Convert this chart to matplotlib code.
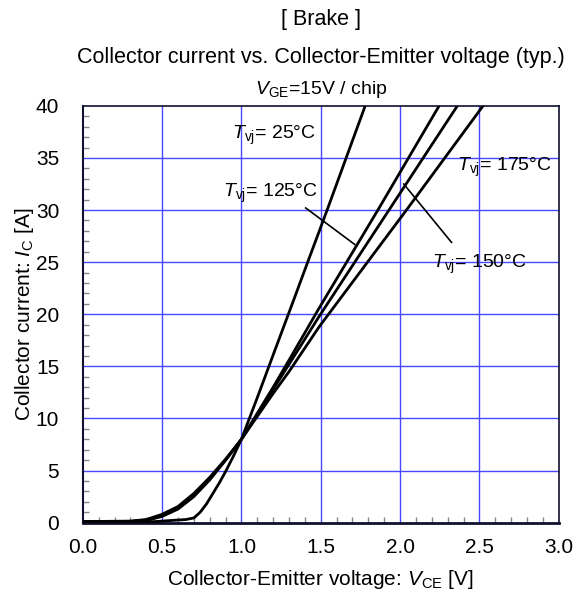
import matplotlib
matplotlib.use('Agg')
import matplotlib.pyplot as plt
from matplotlib.ticker import MultipleLocator

plt.rcParams['font.family'] = ['Liberation Sans', 'DejaVu Sans']
plt.rcParams['mathtext.fontset'] = 'custom'
plt.rcParams['mathtext.rm'] = 'Liberation Sans'
plt.rcParams['mathtext.it'] = 'Liberation Sans:italic'

# Output characteristics (V_CE [V], I_C [A])
v_25 = [0.0, 0.30, 0.45, 0.55, 0.65, 0.70, 0.74, 0.78, 0.82, 0.86, 0.90, 0.95, 1.00, 1.10, 1.20, 1.33, 1.42, 1.54, 1.66, 1.78]
i_25 = [0.05, 0.05, 0.1, 0.2, 0.3, 0.45, 1.0, 1.8, 2.8, 3.8, 4.9, 6.4, 8.0, 12.0, 16.1, 21.4, 25.1, 30.0, 35.0, 40.0]

v_125 = [0.0, 0.30, 0.40, 0.50, 0.60, 0.70, 0.80, 0.90, 1.00, 1.10, 1.20, 1.30, 1.49, 1.86, 2.246]
i_125 = [0.1, 0.1, 0.2, 0.6, 1.3, 2.5, 4.1, 6.0, 8.0, 10.5, 13.0, 15.6, 20.6, 30.0, 40.0]

v_150 = [0.0, 0.30, 0.40, 0.50, 0.60, 0.70, 0.80, 0.90, 1.00, 1.10, 1.20, 1.30, 1.49, 1.93, 2.361]
i_150 = [0.1, 0.12, 0.25, 0.7, 1.4, 2.65, 4.2, 6.0, 8.0, 10.4, 12.8, 15.2, 19.8, 30.0, 40.0]

v_175 = [0.0, 0.30, 0.40, 0.50, 0.60, 0.70, 0.80, 0.90, 1.00, 1.10, 1.20, 1.30, 1.49, 2.04, 2.523]
i_175 = [0.1, 0.15, 0.3, 0.8, 1.55, 2.8, 4.35, 6.1, 8.0, 10.2, 12.4, 14.5, 18.8, 30.0, 40.0]

fig = plt.figure(figsize=(5.79, 5.98), dpi=100)
ax = fig.add_axes([0.143, 0.126, 0.822, 0.697])

grid_col = '#4848ff'
for x in [0.5, 1.0, 1.5, 2.0, 2.5]:
    ax.axvline(x, color=grid_col, lw=1.0, zorder=1)
for y in [5, 10, 15, 20, 25, 30, 35]:
    ax.axhline(y, color=grid_col, lw=1.0, zorder=1)

for v, i in [(v_25, i_25), (v_125, i_125), (v_150, i_150), (v_175, i_175)]:
    ax.plot(v, i, color='black', lw=2.0, zorder=3, clip_on=True)

ax.set_xlim(0, 3.0)
ax.set_ylim(0, 40)
ax.xaxis.set_major_locator(MultipleLocator(0.5))
ax.xaxis.set_minor_locator(MultipleLocator(0.1))
ax.yaxis.set_major_locator(MultipleLocator(5))
ax.yaxis.set_minor_locator(MultipleLocator(1))
ax.xaxis.set_major_formatter(plt.FormatStrFormatter('%.1f'))
ax.tick_params(which='major', length=0, labelsize=15)
ax.tick_params(axis='x', which='major', pad=11)
ax.tick_params(axis='y', which='major', pad=17)
ax.tick_params(which='minor', direction='in', length=4, width=1, color='#888888')
for s in ax.spines.values():
    s.set_color('#101030')
    s.set_linewidth(1.2)
ax.spines['bottom'].set_linewidth(2)
ax.spines['left'].set_linewidth(1.5)

ax.set_xlabel(r'Collector-Emitter voltage: $\mathit{V}$$_{\rm CE}$ [V]', fontsize=15, labelpad=8)
ax.set_ylabel(r'Collector current: $\mathit{I}$$_{\rm C}$ [A]', fontsize=15, labelpad=0)

fig.text(0.555, 1 - 20 / 598, '[ Brake ]', ha='center', va='center', fontsize=15.5)
fig.text(0.555, 1 - 58 / 598, 'Collector current vs. Collector-Emitter voltage (typ.)',
         ha='center', va='center', fontsize=15.5)
fig.text(0.555, 1 - 90 / 598, r'$\mathit{V}$$_{\rm GE}$=15V / chip', ha='center', va='center', fontsize=14)

fs = 14
ax.text(0.94, 37.2, r'$\mathit{T}$$_{\rm vj}$= 25°C', fontsize=fs, va='center', ha='left', zorder=4)
ax.text(0.884, 31.6, r'$\mathit{T}$$_{\rm vj}$= 125°C', fontsize=fs, va='center', ha='left', zorder=4)
ax.text(2.359, 34.1, r'$\mathit{T}$$_{\rm vj}$= 175°C', fontsize=fs, va='center', ha='left', zorder=4)
ax.text(2.2, 24.8, r'$\mathit{T}$$_{\rm vj}$= 150°C', fontsize=fs, va='center', ha='left', zorder=4)
ax.plot([1.405, 1.714], [30.2, 26.7], color='black', lw=1.2, zorder=4)
ax.plot([2.324, 2.023], [26.9, 32.5], color='black', lw=1.2, zorder=4)

fig.savefig('out.png', dpi=100)
